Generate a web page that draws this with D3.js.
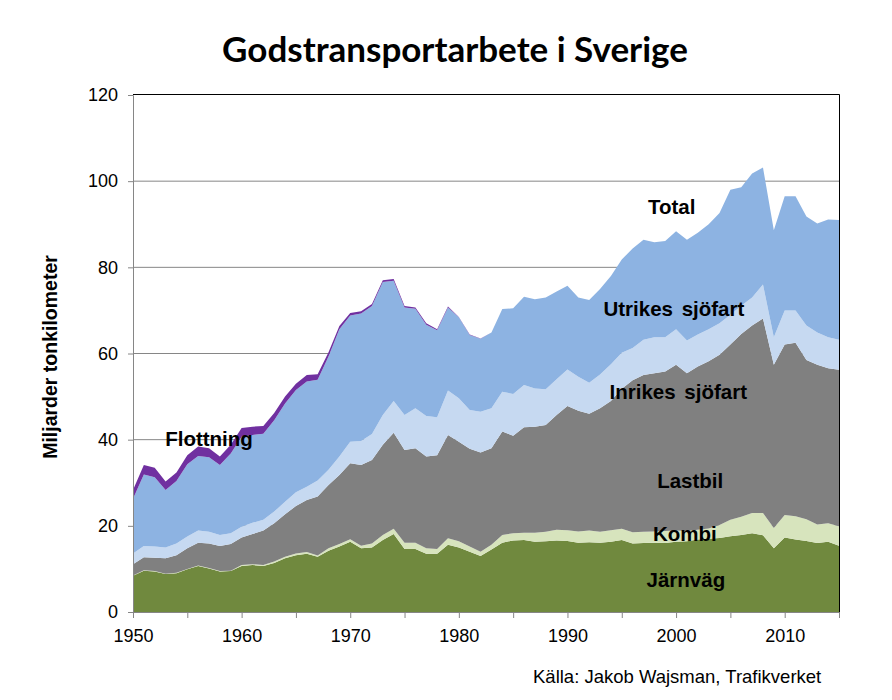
<!DOCTYPE html>
<html><head><meta charset="utf-8">
<script src="https://cdn.jsdelivr.net/npm/d3@7"></script>
<style>body{margin:0;background:#fff}svg{display:block}</style>
</head><body>
<svg id="c" width="892" height="700"></svg>
<script>
const years = d3.range(1950, 2016);
const jarnvag = [8.4,9.6,9.4,8.8,9.0,9.9,10.7,10.1,9.4,9.5, 10.7,10.9,10.7,11.4,12.5,13.2,13.5,12.8,14.2,15.2, 16.3,14.8,15.0,16.7,18.1,14.6,14.6,13.5,13.5,15.6, 15.0,14.0,13.0,14.5,16.1,16.6,16.7,16.3,16.4,16.6, 16.5,16.1,16.2,16.1,16.3,16.7,15.9,16.0,16.1,16.0, 16.3,16.4,16.8,17.0,17.2,17.6,17.9,18.3,17.8,14.8, 17.3,16.8,16.5,16.0,16.3,15.4];
const kombi = [0.1,0.1,0.1,0.1,0.1,0.1,0.1,0.1,0.1,0.1, 0.2,0.2,0.2,0.3,0.3,0.4,0.4,0.3,0.6,0.6, 0.6,0.6,0.9,1.2,1.2,1.5,1.5,1.3,1.1,1.5, 1.4,1.2,1.0,1.1,1.8,1.7,1.7,2.1,2.2,2.5, 2.5,2.6,2.7,2.5,2.7,2.6,2.6,2.6,2.6,2.8, 2.6,2.4,2.3,2.4,3.0,3.8,4.2,4.7,5.2,4.7, 5.2,5.4,5.0,4.3,4.3,4.5];
const lastbil = [2.6,3.0,3.1,3.6,4.1,4.8,5.3,5.7,5.8,6.2, 6.4,7.0,8.0,8.9,9.9,11.0,12.1,13.7,14.7,16.0, 17.6,18.7,19.4,20.9,22.3,21.5,21.9,21.3,21.8,24.0, 23.1,22.7,23.0,22.4,24.0,22.6,24.5,24.6,24.8,26.6, 28.8,28.0,27.1,28.7,30.0,32.5,35.3,36.4,36.7,37.0, 38.5,36.6,37.9,38.8,39.5,40.7,42.4,43.5,45.1,37.9, 39.6,40.3,37.0,37.1,36.0,36.3];
const inrikes = [2.5,2.6,2.6,2.5,2.7,2.7,2.8,2.7,2.6,2.5, 2.5,2.6,2.5,2.7,2.9,3.2,3.1,3.7,3.5,4.3, 5.0,5.6,6.0,6.9,7.4,8.1,9.3,9.4,8.8,10.3, 10.1,9.0,9.5,9.3,9.2,9.7,9.8,8.9,8.3,8.3, 8.5,7.9,7.2,7.8,8.5,8.4,7.5,8.2,8.4,8.0, 8.2,7.6,7.4,7.4,7.3,6.9,6.6,6.5,7.9,6.4, 7.9,7.5,8.0,7.5,7.2,7.0];
const utrikes = [12.7,16.6,16.1,13.3,14.5,16.8,17.3,17.3,16.2,18.5, 20.9,20.4,20.0,21.2,22.8,23.7,24.4,23.4,26.3,29.5, 29.3,29.6,29.7,30.9,27.9,25.0,23.1,21.2,20.2,19.3, 18.8,17.4,16.9,17.6,19.2,19.9,20.5,20.7,21.3,20.4, 19.4,18.4,19.2,19.9,20.5,21.6,23.1,23.2,22.0,22.3, 22.8,23.4,23.6,24.4,25.6,29.0,27.5,28.8,27.2,24.8, 26.5,26.5,25.3,25.3,27.3,27.8];
const flottning = [2.0,2.2,2.2,2.0,2.0,2.1,2.2,2.1,2.0,2.0, 2.0,1.9,1.8,1.7,1.6,1.5,1.5,1.3,1.0,0.8, 0.6,0.5,0.5,0.4,0.4,0.3,0.3,0.3,0.2,0.2, 0.1,0.1,0.1,0,0,0,0,0,0,0, 0,0,0,0,0,0,0,0,0,0, 0,0,0,0,0,0,0,0,0,0, 0,0,0,0,0,0];

const seriesNames = ["Järnväg","Kombi","Lastbil","Inrikes sjöfart","Utrikes sjöfart","Flottning"];
const seriesData = [jarnvag, kombi, lastbil, inrikes, utrikes, flottning];
const colors = ["#70893e","#d7e4bd","#808080","#c6d9f1","#8db3e2","#7030a0"];
const yTicks = [0,20,40,60,80,100,120];
const xTickLabels = [1950,1960,1970,1980,1990,2000,2010];
const areaLabels = [
  {text:"Total", year:1999.6, value:92.3},
  {text:"Utrikes sjöfart", year:1999.8, value:68.6},
  {text:"Inrikes sjöfart", year:2000.2, value:49.4},
  {text:"Lastbil", year:2001.3, value:28.8},
  {text:"Kombi", year:2000.8, value:16.4},
  {text:"Järnväg", year:2000.9, value:5.8},
  {text:"Flottning", year:1957.0, value:38.6}
];

const table = years.map((y,i) => {
  const o = {year:y};
  seriesNames.forEach((n,k) => o[n] = seriesData[k][i]);
  return o;
});

const svg = d3.select("#c");
const L = 133, R = 839, T = 95, B = 612;
const x = d3.scaleLinear().domain([1950,2015]).range([L,R]);
const y = d3.scaleLinear().domain([0,120]).range([B,T]);
const FONT = "Liberation Sans, Arial, sans-serif";

// gridlines
svg.append("g").selectAll("line").data(yTicks.slice(1,-1)).join("line")
  .attr("x1",L).attr("x2",R).attr("y1",d=>y(d)).attr("y2",d=>y(d))
  .attr("stroke","#868686").attr("stroke-width",1);

const stacked = d3.stack().keys(seriesNames)(table);
const area = d3.area().x(d=>x(d.data.year)).y0(d=>y(d[0])).y1(d=>y(d[1]));
svg.append("g").selectAll("path").data(stacked).join("path")
  .attr("d",area).attr("fill",(d,i)=>colors[i]);

// plot border top/right
svg.append("path").attr("d",`M${L},${T-0.5}H${R+0.5}V${B}`).attr("fill","none").attr("stroke","#000").attr("stroke-width",1);

// y axis
const yAxis = d3.axisLeft(y).tickValues(yTicks).tickSize(5).tickPadding(10).tickFormat(d3.format("d"));
const gy = svg.append("g").attr("transform",`translate(${L},0)`).call(yAxis);
gy.select(".domain").attr("stroke","#868686");
gy.selectAll(".tick line").attr("stroke","#868686");
gy.selectAll("text").attr("font-family",FONT).attr("font-size","18px").attr("fill","#000");

// x axis
const xAxis = d3.axisBottom(x).tickValues(d3.range(1950,2016,5)).tickSize(6).tickPadding(11)
  .tickFormat(d => xTickLabels.includes(d) ? String(d) : "");
const gx = svg.append("g").attr("transform",`translate(0,${B})`).call(xAxis);
gx.select(".domain").attr("stroke","#868686");
gx.selectAll(".tick line").attr("stroke","#868686");
gx.selectAll("text").attr("font-family",FONT).attr("font-size","18px").attr("fill","#000");

// title
svg.append("text").attr("x",455).attr("y",62).attr("text-anchor","middle")
  .attr("font-family","Lato, 'Open Sans', sans-serif").attr("font-weight","bold").attr("font-size","35px")
  .text("Godstransportarbete i Sverige");

// y axis label
svg.append("text").attr("transform","translate(57,357) rotate(-90)").attr("text-anchor","middle")
  .attr("font-family",FONT).attr("font-weight","bold").attr("font-size","19.5px")
  .text("Miljarder tonkilometer");

// area labels
svg.append("g").selectAll("text").data(areaLabels).join("text")
  .attr("x",d=>x(d.year)).attr("y",d=>y(d.value)).attr("text-anchor","middle")
  .attr("font-family",FONT).attr("font-weight","bold").attr("font-size","20.5px")
  .attr("word-spacing","3px")
  .attr("fill","#000").text(d=>d.text);

// source
svg.append("text").attr("x",533).attr("y",683)
  .attr("font-family",FONT).attr("font-size","18.5px").attr("fill","#000")
  .text("Källa: Jakob Wajsman, Trafikverket");
</script>
</body></html>
